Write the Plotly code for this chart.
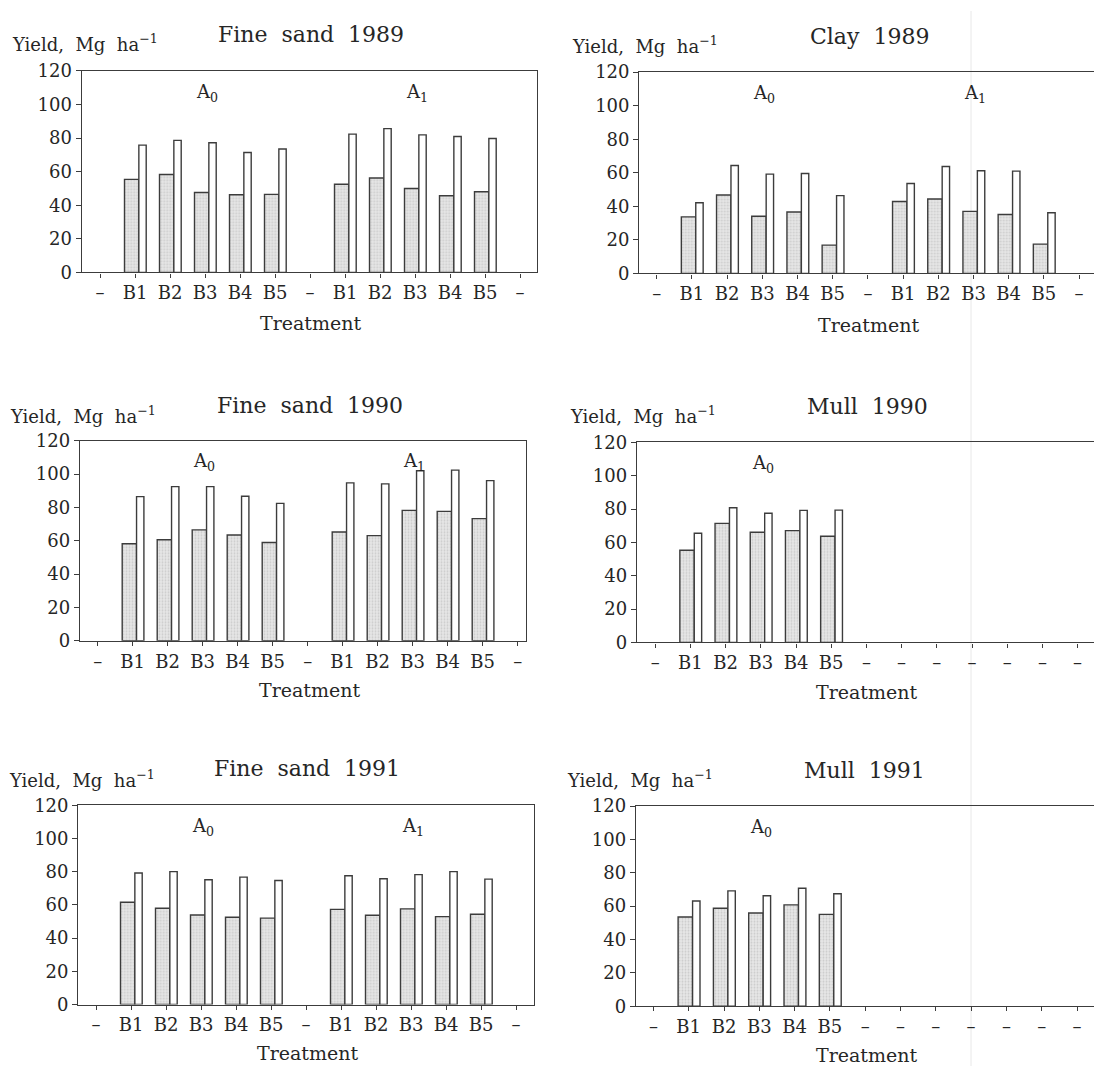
import plotly.graph_objects as go

# ---- data: yields (Mg ha-1) per treatment, shaded = first bar, white = second bar ----
two_level_ticks = ["–", "B1", "B2", "B3", "B4", "B5", "–", "B1", "B2", "B3", "B4", "B5", "–"]
one_level_ticks = ["–", "B1", "B2", "B3", "B4", "B5", "–", "–", "–", "–", "–", "–", "–"]

fs1989_shaded = [55.4, 58.3, 47.6, 46.3, 46.5, 52.5, 56.2, 50.0, 45.7, 48.0]
fs1989_white = [75.8, 78.6, 77.2, 71.4, 73.5, 82.3, 85.6, 81.9, 80.9, 79.7]

clay1989_shaded = [33.7, 46.8, 34.1, 36.6, 16.9, 42.9, 44.4, 37.0, 35.1, 17.5]
clay1989_white = [42.1, 64.3, 59.2, 59.6, 46.4, 53.6, 63.7, 61.2, 61.0, 36.2]

fs1990_shaded = [58.2, 60.6, 66.5, 63.5, 59.0, 65.3, 63.1, 78.2, 77.6, 73.3]
fs1990_white = [86.5, 92.5, 92.5, 86.7, 82.4, 94.7, 94.1, 102.0, 102.4, 96.1]

mull1990_shaded = [55.3, 71.4, 66.1, 67.1, 63.7]
mull1990_white = [65.5, 80.8, 77.5, 79.2, 79.4]

fs1991_shaded = [61.6, 58.0, 53.9, 52.5, 52.0, 57.3, 53.7, 57.6, 52.9, 54.3]
fs1991_white = [79.2, 80.0, 75.1, 76.7, 74.7, 77.5, 75.7, 78.2, 80.0, 75.5]

mull1991_shaded = [53.5, 58.8, 55.9, 60.8, 55.1]
mull1991_white = [63.1, 69.2, 66.3, 70.8, 67.5]

W, H = 1094, 1076
FONT = "DejaVu Serif"
INK = "#262626"
LINE = "#3c3c3c"
NB = "\u00a0"

# panel layout in pixels: plot left, first tick, tick spacing, plot right, top, bottom
panels = [
    dict(title="Fine sand 1989", shaded=fs1989_shaded, white=fs1989_white, ticks=two_level_ticks,
         groups=["A<sub>0</sub>", "A<sub>1</sub>"], box=(81.7, 100.0, 35.0, 536.7, 61.0, 266.7),
         title_xy=(311, 24), ylab_xy=(10, 33), treat_xy=(310, 318), closed=True),
    dict(title="Clay 1989", shaded=clay1989_shaded, white=clay1989_white, ticks=two_level_ticks,
         groups=["A<sub>0</sub>", "A<sub>1</sub>"], box=(639.3, 656.7, 35.2, 1094.0, 62.3, 267.7),
         title_xy=(869, 26), ylab_xy=(570, 35), treat_xy=(868, 320), closed=False),
    dict(title="Fine sand 1990", shaded=fs1990_shaded, white=fs1990_white, ticks=two_level_ticks,
         groups=["A<sub>0</sub>", "A<sub>1</sub>"], box=(80.0, 97.7, 35.0, 526.0, 438.3, 642.3),
         title_xy=(310, 402), ylab_xy=(8, 412), treat_xy=(309, 693), closed=True),
    dict(title="Mull 1990", shaded=mull1990_shaded, white=mull1990_white, ticks=one_level_ticks,
         groups=["A<sub>0</sub>"], box=(637.0, 655.2, 35.2, 1094.0, 440.0, 644.0),
         title_xy=(867, 403), ylab_xy=(568, 412), treat_xy=(866, 695), closed=False),
    dict(title="Fine sand 1991", shaded=fs1991_shaded, white=fs1991_white, ticks=two_level_ticks,
         groups=["A<sub>0</sub>", "A<sub>1</sub>"], box=(78.3, 96.0, 35.0, 533.5, 810.0, 1013.3),
         title_xy=(307, 773), ylab_xy=(7, 783), treat_xy=(307, 1063), closed=True),
    dict(title="Mull 1991", shaded=mull1991_shaded, white=mull1991_white, ticks=one_level_ticks,
         groups=["A<sub>0</sub>"], box=(636.0, 653.4, 35.3, 1094.0, 811.0, 1015.0),
         title_xy=(864, 775), ylab_xy=(565, 783), treat_xy=(866, 1065), closed=False),
]

fig = go.Figure()
layout = dict(
    width=W, height=H, autosize=False,
    margin=dict(l=0, r=0, t=0, b=0),
    paper_bgcolor="white", plot_bgcolor="white",
    barmode="overlay", showlegend=False,
    font=dict(family=FONT, color=INK, size=18),
)
annotations = []

for i, p in enumerate(panels, start=1):
    ax = "" if i == 1 else str(i)
    left, tick0, step, right, top, bottom = p["box"]
    slots = [k for k, t in enumerate(p["ticks"]) if t != "–"]
    ticks = list(range(len(p["ticks"])))

    # shaded bar on the left of each tick, white bar right beside it
    fig.add_trace(go.Bar(
        x=slots, y=p["shaded"], xaxis="x" + ax, yaxis="y" + ax,
        width=0.41, offset=-0.30,
        marker=dict(color="#e2e2e2", line=dict(color=LINE, width=1.4),
                    pattern=dict(shape=".", fgcolor="#b0b0b0", bgcolor="#e6e6e6",
                                 size=3, solidity=0.3)),
        hoverinfo="skip",
    ))
    fig.add_trace(go.Bar(
        x=slots, y=p["white"], xaxis="x" + ax, yaxis="y" + ax,
        width=0.21, offset=0.11,
        marker=dict(color="white", line=dict(color=LINE, width=1.4)),
        hoverinfo="skip",
    ))

    layout["xaxis" + ax] = dict(
        domain=[left / W, min(right / W, 1.0)],
        range=[(left - tick0) / step, (right - tick0) / step],
        anchor="y" + ax, tickmode="array", tickvals=ticks, ticktext=p["ticks"],
        ticks="outside", ticklen=4, tickwidth=1.3, tickcolor=LINE,
        showline=True, linecolor=LINE, linewidth=1.4, mirror=True,
        showgrid=False, zeroline=False, fixedrange=True,
        tickfont=dict(family=FONT, size=18, color=INK),
    )
    layout["yaxis" + ax] = dict(
        domain=[1 - bottom / H, 1 - top / H],
        range=[0, 120], anchor="x" + ax, tickmode="array",
        tickvals=[0, 20, 40, 60, 80, 100, 120],
        ticks="outside", ticklen=5, tickwidth=1.3, tickcolor=LINE,
        showline=True, linecolor=LINE, linewidth=1.4,
        mirror=True if p["closed"] else False,
        showgrid=False, zeroline=False, fixedrange=True,
        tickfont=dict(family=FONT, size=18, color=INK),
    )

    # group labels A0 / A1 above the middle bar of each group
    for g, label in enumerate(p["groups"]):
        grp = slots[g * 5:(g + 1) * 5]
        annotations.append(dict(
            x=grp[2] + 0.05, y=107, xref="x" + ax, yref="y" + ax,
            text=label, showarrow=False, font=dict(family=FONT, size=18, color=INK),
        ))

    tx, ty = p["title_xy"]
    annotations.append(dict(
        x=tx / W, y=1 - ty / H, xref="paper", yref="paper", xanchor="center", yanchor="middle",
        text=p["title"].replace(" ", NB * 2), showarrow=False,
        font=dict(family=FONT, size=22, color=INK),
    ))
    lx, ly = p["ylab_xy"]
    annotations.append(dict(
        x=lx / W, y=1 - ly / H, xref="paper", yref="paper", xanchor="left", yanchor="middle",
        text="Yield," + NB * 2 + "Mg" + NB * 2 + "ha<sup>\u22121</sup>", showarrow=False,
        font=dict(family=FONT, size=18, color=INK),
    ))
    cx, cy = p["treat_xy"]
    annotations.append(dict(
        x=cx / W, y=1 - cy / H, xref="paper", yref="paper", xanchor="center", yanchor="middle",
        text="Treatment", showarrow=False, font=dict(family=FONT, size=19, color=INK),
    ))

layout["annotations"] = annotations
# faint fold line running down the right column of the page
layout["shapes"] = [dict(type="line", xref="paper", yref="paper", x0=971 / W, x1=971 / W,
                         y0=0, y1=1, line=dict(color="#e8e8e8", width=1), layer="below")]
fig.update_layout(**layout)
fig.write_html("out.html")
